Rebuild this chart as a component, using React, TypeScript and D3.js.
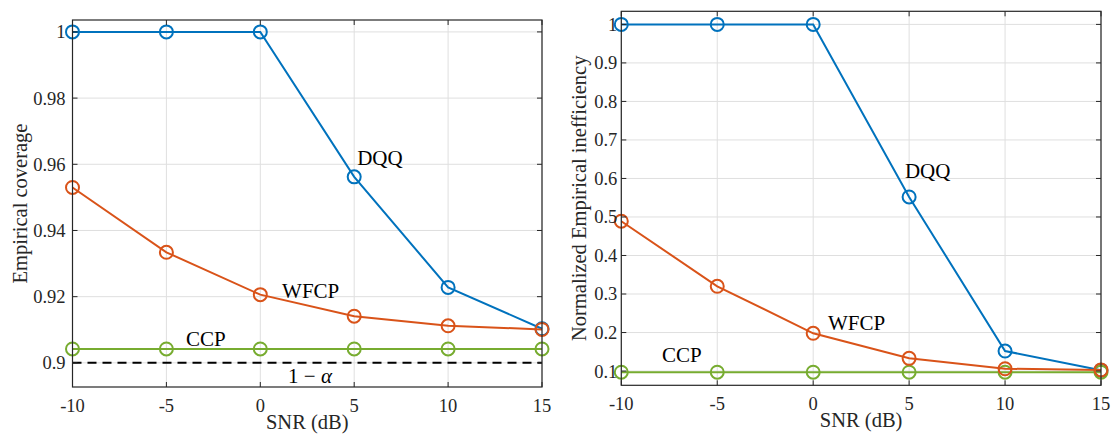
import React from 'react';
import * as d3 from 'd3';

// SNR grid (dB)
const snr = [-10, -5, 0, 5, 10, 15];

// left panel: empirical coverage
const coverageDQQ = [1, 1, 1, 0.9562, 0.9228, 0.9103];
const coverageWFCP = [0.953, 0.9334, 0.9206, 0.9141, 0.9112, 0.9101];
const coverageCCP = [0.9042, 0.9042, 0.9042, 0.9042, 0.9042, 0.9042];
const targetCoverage = 0.9;
const coverageTicks = [0.9, 0.92, 0.94, 0.96, 0.98, 1];

// right panel: normalized empirical inefficiency
const ineffDQQ = [1, 1, 1, 0.552, 0.152, 0.102];
const ineffWFCP = [0.489, 0.32, 0.198, 0.133, 0.106, 0.103];
const ineffCCP = [0.097, 0.097, 0.097, 0.097, 0.097, 0.097];
const ineffTicks = [0.1, 0.2, 0.3, 0.4, 0.5, 0.6, 0.7, 0.8, 0.9, 1];

const snrTicks = [-10, -5, 0, 5, 10, 15];

const BLUE = '#0072BD';
const ORANGE = '#D95319';
const GREEN = '#77AC30';
const AXIS = '#262626';
const FONT = '"Liberation Serif", "Times New Roman", serif';

type Series = { values: number[]; color: string };
type Note = { text: React.ReactNode; x: number; y: number };

type PanelProps = {
  box: { left: number; top: number; right: number; bottom: number };
  yDomain: [number, number];
  yTicks: number[];
  yFormat: (v: number) => string;
  yLabel: string;
  yLabelOffset: number;
  series: Series[];
  notes: Note[];
  refLine?: number;
  tickGap: number;
};

const Panel = ({ box, yDomain, yTicks, yFormat, yLabel, yLabelOffset, series, notes, refLine, tickGap }: PanelProps) => {
  const x = d3.scaleLinear().domain([-10, 15]).range([box.left, box.right]);
  const y = d3.scaleLinear().domain(yDomain).range([box.bottom, box.top]);
  const line = d3.line<number>()
    .x((_, i) => x(snr[i]))
    .y(d => y(d));
  const tickLen = 5;

  return (
    <g>
      {/* grid */}
      {snrTicks.map(t => (
        <line key={'gx' + t} x1={x(t)} x2={x(t)} y1={box.top} y2={box.bottom} stroke="#dfdfdf" strokeWidth={1} />
      ))}
      {yTicks.map(t => (
        <line key={'gy' + t} x1={box.left} x2={box.right} y1={y(t)} y2={y(t)} stroke="#dfdfdf" strokeWidth={1} />
      ))}

      {refLine !== undefined && (
        <line x1={box.left} x2={box.right} y1={y(refLine)} y2={y(refLine)}
          stroke="#000" strokeWidth={2} strokeDasharray="9,6" />
      )}

      {series.map((s, si) => (
        <g key={si}>
          <path d={line(s.values) || ''} fill="none" stroke={s.color} strokeWidth={2} />
          {s.values.map((v, i) => (
            <circle key={i} cx={x(snr[i])} cy={y(v)} r={6.5} fill="none" stroke={s.color} strokeWidth={2} />
          ))}
        </g>
      ))}

      {/* box + ticks */}
      <rect x={box.left} y={box.top} width={box.right - box.left} height={box.bottom - box.top}
        fill="none" stroke={AXIS} strokeWidth={1.2} />
      {snrTicks.map(t => (
        <g key={'tx' + t}>
          <line x1={x(t)} x2={x(t)} y1={box.bottom} y2={box.bottom - tickLen} stroke={AXIS} />
          <line x1={x(t)} x2={x(t)} y1={box.top} y2={box.top + tickLen} stroke={AXIS} />
          <text x={x(t)} y={box.bottom + 24.5} textAnchor="middle" fontSize={18.5} fill={AXIS}>{t}</text>
        </g>
      ))}
      {yTicks.map(t => (
        <g key={'ty' + t}>
          <line x1={box.left} x2={box.left + tickLen} y1={y(t)} y2={y(t)} stroke={AXIS} />
          <line x1={box.right} x2={box.right - tickLen} y1={y(t)} y2={y(t)} stroke={AXIS} />
          <text x={box.left - tickGap} y={y(t)} dy="0.35em" textAnchor="end" fontSize={18.5} fill={AXIS}>{yFormat(t)}</text>
        </g>
      ))}

      <text x={(box.left + box.right) / 2} y={box.bottom + 42} textAnchor="middle" fontSize={20.5} fill={AXIS}>SNR (dB)</text>
      <text transform={`translate(${box.left - yLabelOffset},${(box.top + box.bottom) / 2}) rotate(-90)`}
        textAnchor="middle" fontSize={20.5} fill={AXIS}>{yLabel}</text>

      {notes.map((n, i) => (
        <text key={i} x={x(n.x)} y={y(n.y)} fontSize={21} fill="#000">{n.text}</text>
      ))}
    </g>
  );
};

const App = () => {
  return (
    <svg width={1112} height={439} style={{ position: 'absolute', left: 0, top: 0, fontFamily: FONT }}>
      <rect width={1112} height={439} fill="#fff" />
      <Panel
        box={{ left: 72.5, top: 20, right: 542, bottom: 387 }}
        yDomain={[0.8927, 1.0036]}
        yTicks={coverageTicks}
        yFormat={v => (v === 1 ? '1' : d3.format('.2~f')(v))}
        yLabel="Empirical coverage"
        yLabelOffset={46}
        series={[
          { values: coverageDQQ, color: BLUE },
          { values: coverageCCP, color: GREEN },
          { values: coverageWFCP, color: ORANGE },
        ]}
        refLine={targetCoverage}
        tickGap={7}
        notes={[
          { text: 'DQQ', x: 5.16, y: 0.9597 },
          { text: 'WFCP', x: 1.16, y: 0.9197 },
          { text: 'CCP', x: -3.95, y: 0.9052 },
          { text: <>1 − <tspan fontStyle="italic">α</tspan></>, x: 1.48, y: 0.8939 },
        ]}
      />
      <Panel
        box={{ left: 621.3, top: 11.3, right: 1101, bottom: 385.3 }}
        yDomain={[0.063, 1.034]}
        yTicks={ineffTicks}
        yFormat={v => (v === 1 ? '1' : d3.format('.1f')(v))}
        yLabel="Normalized Empirical inefficiency"
        yLabelOffset={35}
        series={[
          { values: ineffDQQ, color: BLUE },
          { values: ineffCCP, color: GREEN },
          { values: ineffWFCP, color: ORANGE },
        ]}
        tickGap={4}
        notes={[
          { text: 'DQQ', x: 4.78, y: 0.601 },
          { text: 'WFCP', x: 0.77, y: 0.2064 },
          { text: 'CCP', x: -7.88, y: 0.123 },
        ]}
      />
    </svg>
  );
};

export default App;
